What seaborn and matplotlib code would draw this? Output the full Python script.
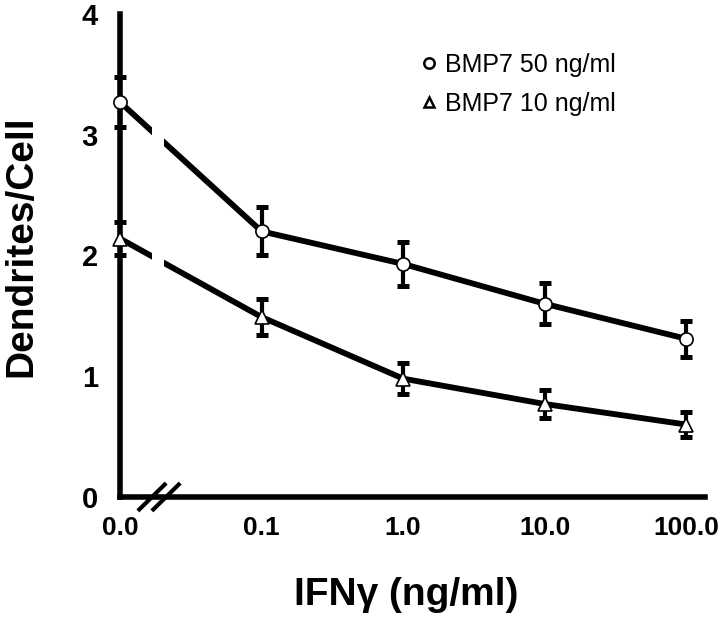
import numpy as np
import pandas as pd
import seaborn as sns
from matplotlib import pyplot as plt
from matplotlib.lines import Line2D

# doses of IFN-gamma (ng/ml), drawn at equal spacing
doses = ['0.0', '0.1', '1.0', '10.0', '100.0']

# dendrites per cell, BMP7 50 ng/ml
bmp50_mean = [3.27, 2.20, 1.93, 1.60, 1.31]
bmp50_err = [0.21, 0.20, 0.18, 0.17, 0.15]

# dendrites per cell, BMP7 10 ng/ml
bmp10_mean = [2.14, 1.49, 0.98, 0.77, 0.60]
bmp10_err = [0.14, 0.15, 0.13, 0.12, 0.10]

series = ['BMP7 50 ng/ml', 'BMP7 10 ng/ml']

sns.set_theme(style='white')
plt.rcParams['font.family'] = ['Liberation Sans', 'DejaVu Sans']
plt.rcParams['text.color'] = 'black'
plt.rcParams['axes.labelcolor'] = 'black'

df = pd.DataFrame({
    'x': list(range(len(doses))) * 2,
    'y': bmp50_mean + bmp10_mean,
    'err': bmp50_err + bmp10_err,
    'series': [series[0]] * len(doses) + [series[1]] * len(doses),
})

fig = plt.figure(figsize=(7.2, 6.22), dpi=100)
ax = fig.add_axes([0.1667, 0.201, 0.812, 0.7765])

sns.lineplot(data=df, x='x', y='y', hue='series', palette=['black', 'black'],
             linewidth=4.2, legend=False, ax=ax, zorder=2)

# white gap in the first segment (broken x axis)
ax.axvspan(0.226, 0.31, ymin=0.2, ymax=0.95, color='white', zorder=3, lw=0)

# error bars and markers
marks = {series[0]: 'o', series[1]: '^'}
for name, grp in df.groupby('series', sort=False):
    eb = ax.errorbar(grp['x'], grp['y'], yerr=grp['err'], fmt='none', ecolor='black',
                     elinewidth=3.0, capsize=4.3, capthick=3.6, zorder=4)
    for art in eb.lines[1] + eb.lines[2]:
        art.set_clip_on(False)
    ax.plot(grp['x'], grp['y'], linestyle='none', marker=marks[name], ms=9.5,
            mfc='white', mec='black', mew=1.2, zorder=5, clip_on=False)

ax.set_xlim(0, 4.13)
ax.set_ylim(0, 4)
ax.set_xticks(range(len(doses)))
ax.set_xticklabels(doses)
ax.set_yticks([0, 1, 2, 3, 4])

for s in ['top', 'right']:
    ax.spines[s].set_visible(False)
for s in ['left', 'bottom']:
    ax.spines[s].set_linewidth(4.0)
    ax.spines[s].set_color('black')

ax.tick_params(axis='both', direction='out', length=5, width=0.8, color='#555555',
               labelcolor='black', labelsize=19)
ax.tick_params(axis='x', labelsize=19, pad=9)
ax.tick_params(axis='y', labelsize=21, pad=11)
for lab in ax.get_xticklabels() + ax.get_yticklabels():
    lab.set_fontweight('bold')

ax.set_xlabel('IFN\u03b3 (ng/ml)', fontsize=28, fontweight='bold')
ax.set_ylabel('Dendrites/Cell', fontsize=28, fontweight='bold')
ax.xaxis.set_label_coords(0.489, -0.165)
ax.yaxis.set_label_coords(-0.138, 0.52)

# break marks on the x axis
for bx in [0.226, 0.325]:
    ax.plot([bx - 0.1, bx + 0.1], [-0.115, 0.115], color='black', lw=3,
            clip_on=False, zorder=6, solid_capstyle='butt')

handles = [Line2D([], [], linestyle='none', marker='o', ms=7.5, mfc='white',
                  mec='black', mew=1.8),
           Line2D([], [], linestyle='none', marker='^', ms=7.5, mfc='white',
                  mec='black', mew=1.8)]
ax.legend(handles, series, loc='upper left', bbox_to_anchor=(0.485, 0.945),
          frameon=False, fontsize=18, handletextpad=0.15, labelspacing=0.6,
          handlelength=1.0, borderpad=0)

fig.savefig('out.png', dpi=100)
